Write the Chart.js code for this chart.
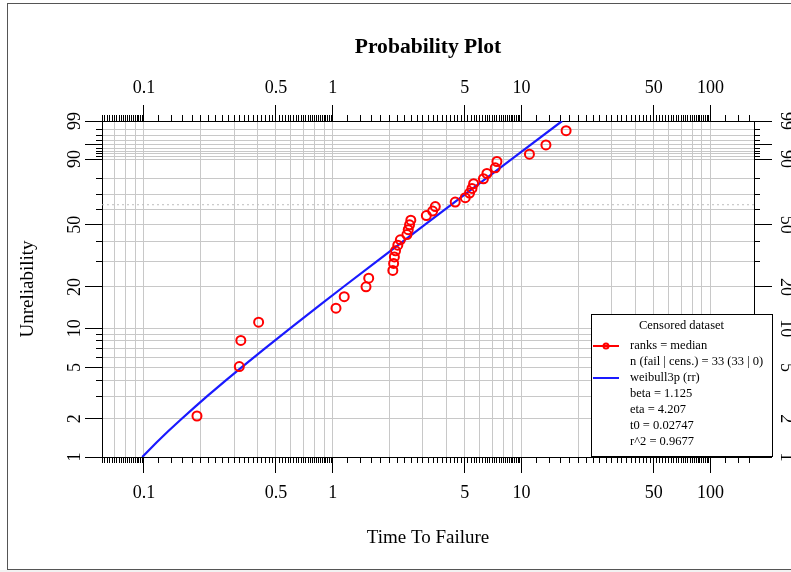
<!DOCTYPE html>
<html>
<head>
<meta charset="utf-8">
<script src="https://cdn.jsdelivr.net/npm/chart.js@4/dist/chart.umd.min.js"></script>
<style>html,body{margin:0;padding:0;background:#fff}canvas{display:block}</style>
</head>
<body>
<canvas id="c" width="791" height="572"></canvas>
<script>
// ---------- data ----------
const failureTimes = [0.191,0.320,0.326,0.405,1.04,1.15,1.50,1.55,2.08,2.10,2.12,2.15,2.21,2.28,2.47,2.51,2.55,2.59,3.13,3.38,3.49,4.45,5.03,5.30,5.46,5.57,6.28,6.55,7.25,7.40,11.0,13.45,17.2];
const medianRanks = [2.10,5.09,8.08,11.08,14.07,17.07,20.06,23.05,26.05,29.04,32.04,35.03,38.02,41.02,44.01,47.01,50.00,52.99,55.99,58.98,61.98,64.97,67.96,70.96,73.95,76.95,79.94,82.93,85.93,88.92,91.92,94.91,97.90];
const fitTimes = [0.098,0.1166,0.1348,0.1586,0.1877,0.2164,0.2725,0.3277,0.4361,0.597,0.864,1.136,1.710,3.065,4.989,8.857,16.38];
const fitUnrel = [1,1.3,1.6,2,2.5,3,4,5,7,10,15,20,30,50,70,90,99];
const etaLineValue = 63.21;

const xMajorTicks = [0.1,0.5,1,5,10,50,100];
const xTickLabels = ['0.1','0.5','1','5','10','50','100'];
const xGridValues = [0.07,0.08,0.09,0.1,0.2,0.3,0.4,0.5,0.6,0.7,0.8,0.9,1,2,3,4,5,6,7,8,9,10,20,30,40,50,60,70,80,90,100];
const yGridValues = [1,2,3,4,5,6,7,8,9,10,20,30,40,50,60,70,80,90,91,92,93,94,95,96,97,98,99];
const yMajorTicks = [1,2,5,10,20,50,90,95,99];
const yTickLabels = [1,2,5,10,20,50,90,99];

const X_MIN = 0.06, X_MAX = 170, Y_MIN = 1, Y_MAX = 99;

const chartTitle = 'Probability Plot';
const xTitle = 'Time To Failure';
const yTitle = 'Unreliability';
const legendTitle = 'Censored dataset';
const legendLines = ['ranks = median','n (fail | cens.) = 33 (33 | 0)','weibull3p (rr)','beta = 1.125','eta = 4.207','t0 = 0.02747','r^2 = 0.9677'];

// minor ticks: 1.0..9.8 step 0.2 within every decade
const xMinorTicks = [];
for (let k = -2; k <= 2; k++) {
  for (let m = 10; m < 100; m += 2) {
    const v = +((m / 10) * Math.pow(10, k)).toPrecision(6);
    if (v >= X_MIN && v <= X_MAX) xMinorTicks.push(v);
  }
}

// ---------- Weibull probability scale ----------
const wtf = p => Math.log(-Math.log(1 - p / 100));
const iwtf = v => 100 * (1 - Math.exp(-Math.exp(v)));
class WeibullScale extends Chart.Scale {
  determineDataLimits() { this.min = this.options.min; this.max = this.options.max; }
  buildTicks() { return []; }
  getLabelForValue(v) { return String(v); }
  configure() { super.configure(); this._tmin = wtf(this.min); this._tmax = wtf(this.max); }
  getPixelForValue(v) {
    if (v === null || v === undefined || isNaN(v)) return NaN;
    return this.getPixelForDecimal((wtf(v) - this._tmin) / (this._tmax - this._tmin));
  }
  getValueForPixel(p) { return iwtf(this._tmin + this.getDecimalForPixel(p) * (this._tmax - this._tmin)); }
}
WeibullScale.id = 'weibull';
WeibullScale.defaults = {};
Chart.register(WeibullScale);

const SERIF = "'Liberation Serif', 'Times New Roman', serif";
Chart.defaults.font.family = SERIF;
Chart.defaults.color = '#000';
const GRID = '#c8c8c8';

const setTicks = vals => s => { s.ticks = vals.map(v => ({ value: v })); };
const fixH = h => s => { s.height = h; };
const fixW = w => s => { s.width = w; };

function xAxis(pos, vals, size, kind) {
  const o = { type: 'logarithmic', position: pos, min: X_MIN, max: X_MAX, bounds: 'data',
    afterBuildTicks: setTicks(vals), afterFit: fixH(size),
    border: { display: false }, ticks: { display: false } };
  if (kind === 'grid') o.grid = { drawOnChartArea: true, drawTicks: false, color: GRID, lineWidth: 1 };
  if (kind === 'minor') o.grid = { drawOnChartArea: false, drawTicks: true, tickLength: 6, tickColor: '#000', tickWidth: 1 };
  if (kind === 'major') {
    o.grid = { drawOnChartArea: false, drawTicks: true, tickLength: 16, tickColor: '#000', tickWidth: 1 };
    o.border = { display: true, color: '#000', width: 1 };
    o.ticks = { display: true, autoSkip: false, minRotation: 0, maxRotation: 0, padding: pos === 'bottom' ? 9.2 : 6.2,
      font: { size: 18 }, callback: v => { const i = xMajorTicks.indexOf(v); return i < 0 ? '' : xTickLabels[i]; } };
  }
  return o;
}
function yAxis(pos, vals, size, kind) {
  const o = { type: 'weibull', position: pos, min: Y_MIN, max: Y_MAX,
    afterBuildTicks: setTicks(vals), afterFit: fixW(size),
    border: { display: false }, ticks: { display: false } };
  if (kind === 'grid') o.grid = { drawOnChartArea: true, drawTicks: false, color: GRID, lineWidth: 1 };
  if (kind === 'minor') o.grid = { drawOnChartArea: false, drawTicks: true, tickLength: 6, tickColor: '#000', tickWidth: 1 };
  if (kind === 'major') {
    const left = pos === 'left';
    o.grid = { drawOnChartArea: false, drawTicks: true, tickLength: left ? 17 : 18, tickColor: '#000', tickWidth: 1 };
    o.border = { display: true, color: '#000', width: 1 };
    o.ticks = { display: true, autoSkip: false, minRotation: left ? 90 : -90, maxRotation: left ? 90 : -90,
      crossAlign: 'center', padding: left ? 1 : 5, font: { size: 18 },
      callback: v => yTickLabels.includes(v) ? String(v) : '' };
  }
  return o;
}

const xBottom = xAxis('bottom', xMajorTicks, 115, 'major');
xBottom.title = { display: true, text: xTitle, font: { size: 19 }, padding: { top: 0, bottom: 22.6 } };
const yLeft = yAxis('left', yMajorTicks, 102, 'major');
yLeft.title = { display: true, text: yTitle, font: { size: 19 }, padding: { top: 16.6, bottom: 0 } };

const framePlugin = {
  id: 'framePlugin',
  beforeDraw(chart) {
    const ctx = chart.ctx;
    ctx.save();
    ctx.fillStyle = '#fff';
    ctx.fillRect(0, 0, chart.width, chart.height);
    ctx.fillStyle = '#f2f2f2';
    ctx.fillRect(0, 570, chart.width, chart.height - 570);
    ctx.strokeStyle = '#555';
    ctx.lineWidth = 1;
    ctx.strokeRect(7.5, 3.5, chart.width + 20, 566);
    ctx.restore();
  }
};

const legendPlugin = {
  id: 'legendPlugin',
  afterDraw(chart) {
    const { ctx, chartArea: ca } = chart;
    const x0 = Math.round(ca.right) - 163, y0 = Math.round(ca.bottom) - 143, w = 181, h = 142;
    ctx.save();
    ctx.fillStyle = '#fff';
    ctx.fillRect(x0, y0, w, h);
    ctx.strokeStyle = '#000';
    ctx.lineWidth = 1;
    ctx.strokeRect(x0 + 0.5, y0 + 0.5, w, h);
    ctx.fillStyle = '#000';
    ctx.font = '12.5px ' + SERIF;
    ctx.textBaseline = 'middle';
    ctx.textAlign = 'center';
    ctx.fillText(legendTitle, x0 + w / 2, y0 + 12);
    ctx.textAlign = 'left';
    legendLines.forEach((t, i) => ctx.fillText(t, x0 + 39, y0 + 32 + i * 16));
    // red symbol
    ctx.lineWidth = 2;
    ctx.strokeStyle = '#ff0000';
    ctx.beginPath(); ctx.moveTo(x0 + 2, y0 + 32); ctx.lineTo(x0 + 28, y0 + 32); ctx.stroke();
    ctx.beginPath(); ctx.arc(x0 + 15, y0 + 32, 2.5, 0, Math.PI * 2); ctx.stroke();
    // blue symbol
    ctx.strokeStyle = '#1a1aff';
    ctx.beginPath(); ctx.moveTo(x0 + 2, y0 + 64); ctx.lineTo(x0 + 28, y0 + 64); ctx.stroke();
    ctx.restore();
  }
};

new Chart(document.getElementById('c'), {
  type: 'scatter',
  data: {
    datasets: [
      { label: 'ranks = median', data: failureTimes.map((t, i) => ({ x: t, y: medianRanks[i] })),
        xAxisID: 'x', yAxisID: 'y', showLine: false, pointStyle: 'circle', pointRadius: 4.5,
        pointBorderWidth: 2, pointBorderColor: '#ff0000', pointBackgroundColor: 'rgba(0,0,0,0)' },
      { label: 'weibull3p (rr)', data: fitTimes.map((t, i) => ({ x: t, y: fitUnrel[i] })),
        xAxisID: 'x', yAxisID: 'y', showLine: true, borderColor: '#1a1aff', borderWidth: 2.2, pointRadius: 0, tension: 0 },
      { label: 'eta', data: [{ x: X_MIN, y: etaLineValue }, { x: X_MAX, y: etaLineValue }],
        xAxisID: 'x', yAxisID: 'y', showLine: true, borderColor: '#bdbdbd', borderWidth: 1, borderDash: [2, 3], pointRadius: 0 }
    ]
  },
  options: {
    responsive: false,
    animation: false,
    devicePixelRatio: 1,
    events: [],
    layout: { padding: 0 },
    plugins: {
      legend: { display: false },
      tooltip: { enabled: false },
      title: { display: true, text: chartTitle, fullSize: false, color: '#000',
        font: { size: 21.6, weight: 'bold' }, padding: { top: 34, bottom: 0 } }
    },
    scales: {
      xGrid: xAxis('bottom', xGridValues, 0, 'grid'),
      xMinor: xAxis('bottom', xMinorTicks, 0, 'minor'),
      x: xBottom,
      xTopMinor: xAxis('top', xMinorTicks, 0, 'minor'),
      xTop: xAxis('top', xMajorTicks, 121 - (34 + 21.6 * 1.2), 'major'),
      yGrid: yAxis('left', yGridValues, 0, 'grid'),
      yMinor: yAxis('left', yGridValues, 0, 'minor'),
      y: yLeft,
      yRMinor: yAxis('right', yGridValues, 0, 'minor'),
      yR: yAxis('right', yMajorTicks, 37, 'major')
    }
  },
  plugins: [framePlugin, legendPlugin]
});
</script>
</body>
</html>
